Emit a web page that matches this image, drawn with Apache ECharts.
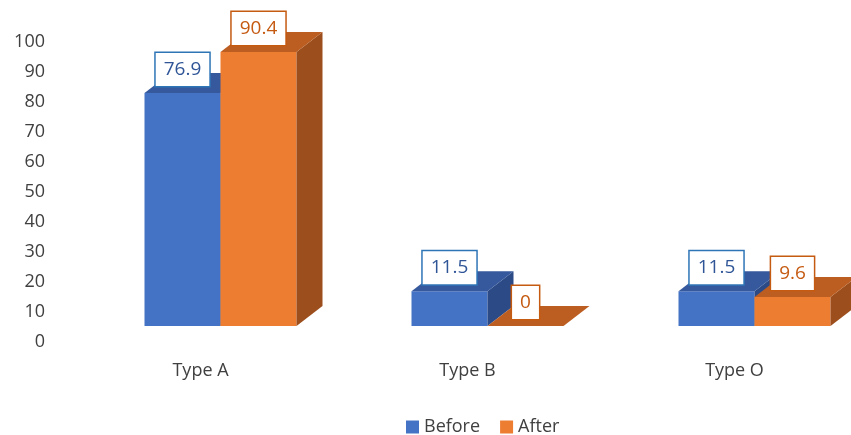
<!DOCTYPE html>
<html>
<head>
<meta charset="utf-8">
<script src="https://cdn.jsdelivr.net/npm/echarts@6/dist/echarts.min.js"></script>
<style>
  html, body { margin: 0; padding: 0; background: #fff; }
  #chart { width: 851px; height: 435px; }
</style>
</head>
<body>
<div id="chart"></div>
<script>
// Blood type share before and after
const categories = ['Type A', 'Type B', 'Type O'];
const beforeValues = [76.9, 11.5, 11.5];
const afterValues = [90.4, 0, 9.6];
const yTicks = [0, 10, 20, 30, 40, 50, 60, 70, 80, 90, 100];

const FONT = '"Open Sans", "Noto Sans", sans-serif';
const BAR_W = 76;          // width of one bar's front face
const DEPTH = [26, -20];   // oblique offset of the bar's back faces

const palette = {
  Before: { front: '#4472C4', top: '#36599E', side: '#2C4A86', text: '#2F5597', border: '#2E75B6' },
  After:  { front: '#ED7D31', top: '#BC5E22', side: '#9C4E1C', text: '#C55A11', border: '#C55A11' }
};

function makeRenderer(name, sideIndex) {
  const c = palette[name];
  return function (params, api) {
    const cat = api.value(0);
    const val = api.value(1);
    const base = api.coord([cat, 0]);
    const top = api.coord([cat, val]);
    const x0 = sideIndex === 0 ? base[0] - BAR_W : base[0];
    const x1 = x0 + BAR_W;
    const yb = base[1];
    const yt = top[1];
    const dx = DEPTH[0], dy = DEPTH[1];
    const children = [];
    if (yb - yt > 0.5) {
      children.push({
        type: 'rect',
        shape: { x: x0, y: yt, width: BAR_W, height: yb - yt },
        style: { fill: c.front }
      });
      children.push({
        type: 'polygon',
        shape: { points: [[x1, yt], [x1 + dx, yt + dy], [x1 + dx, yb + dy], [x1, yb]] },
        style: { fill: c.side }
      });
    }
    children.push({
      type: 'polygon',
      shape: { points: [[x0, yt], [x1, yt], [x1 + dx, yt + dy], [x0 + dx, yt + dy]] },
      style: { fill: c.top }
    });
    children.push({
      type: 'text',
      z2: 50,
      style: {
        text: String(val),
        x: (x0 + x1) / 2,
        y: yt - 7,
        align: 'center',
        verticalAlign: 'bottom',
        font: '19px ' + FONT,
        fill: c.text,
        backgroundColor: '#ffffff',
        borderColor: c.border,
        borderWidth: 1.5,
        padding: [7, 8, 7, 8]
      }
    });
    return { type: 'group', children: children };
  };
}

const chart = echarts.init(document.getElementById('chart'), null, { renderer: 'canvas' });

chart.setOption({
  animation: false,
  backgroundColor: '#ffffff',
  textStyle: { fontFamily: FONT },
  grid: [
    { left: 67, width: 801, top: 42, bottom: 93, outerBoundsMode: 'none' },
    { left: 87, width: 801, top: 23, bottom: 109, outerBoundsMode: 'none' }
  ],
  legend: {
    top: 413,
    left: 401,
    icon: 'rect',
    itemWidth: 13,
    itemHeight: 13,
    itemGap: 20,
    textStyle: { fontSize: 18, color: '#404040', fontFamily: FONT },
    data: ['Before', 'After']
  },
  xAxis: [
    {
      type: 'category', gridIndex: 0, data: categories,
      axisLine: { show: false }, axisTick: { show: false },
      axisLabel: { fontSize: 18, color: '#404040', margin: 20, fontFamily: FONT }
    },
    { type: 'category', gridIndex: 1, data: categories, show: false }
  ],
  yAxis: [
    {
      type: 'value', gridIndex: 0, min: yTicks[0], max: yTicks[yTicks.length - 1], interval: 10,
      axisLine: { show: false }, axisTick: { show: false }, splitLine: { show: false },
      axisLabel: { fontSize: 18, color: '#404040', margin: 22, fontFamily: FONT }
    },
    { type: 'value', gridIndex: 1, min: 0, max: 100, show: false, splitLine: { show: false } }
  ],
  series: [
    {
      name: 'Before', type: 'custom', xAxisIndex: 1, yAxisIndex: 1,
      itemStyle: { color: palette.Before.front },
      clip: false,
      renderItem: makeRenderer('Before', 0),
      encode: { x: 0, y: 1 },
      data: beforeValues.map((v, i) => [i, v])
    },
    {
      name: 'After', type: 'custom', xAxisIndex: 1, yAxisIndex: 1,
      itemStyle: { color: palette.After.front },
      clip: false,
      renderItem: makeRenderer('After', 1),
      encode: { x: 0, y: 1 },
      data: afterValues.map((v, i) => [i, v])
    }
  ]
});
</script>
</body>
</html>
